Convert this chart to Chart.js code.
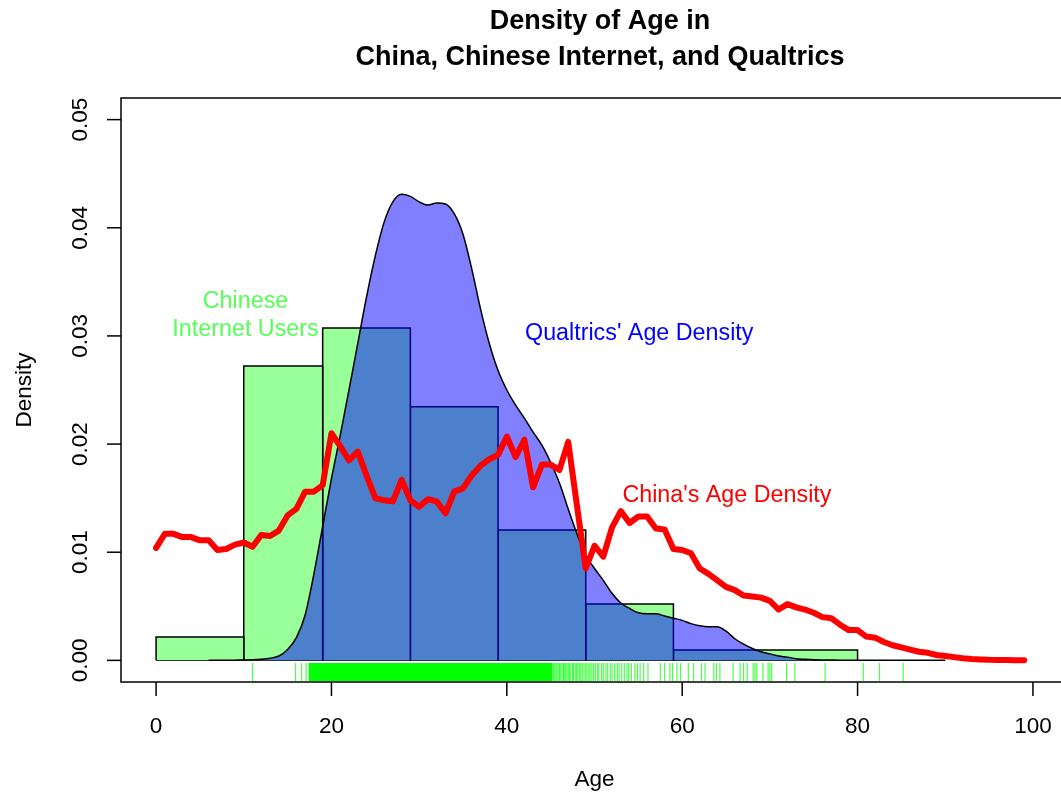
<!DOCTYPE html>
<html>
<head>
<meta charset="utf-8">
<script src="https://cdn.jsdelivr.net/npm/chart.js@4.4.1/dist/chart.umd.min.js"></script>
<style>
  html, body { margin: 0; padding: 0; background: #fff; }
  #wrap { width: 1061px; height: 798px; }
</style>
</head>
<body>
<div id="wrap"><canvas id="ageChart" width="1061" height="798"></canvas></div>
<script>
/* ===== data ===== */
// China's age density, one value per year of age
const chinaAges = [0,1,2,3,4,5,6,7,8,9,10,11,12,13,14,15,16,17,18,19,20,21,22,23,24,25,26,27,28,29,
  30,31,32,33,34,35,36,37,38,39,40,41,42,43,44,45,46,47,48,49,50,51,52,53,54,55,56,57,58,59,
  60,61,62,63,64,65,66,67,68,69,70,71,72,73,74,75,76,77,78,79,80,81,82,83,84,85,86,87,88,89,
  90,91,92,93,94,95,96,97,98,99];
const chinaDensity = [0.0104,0.0117,0.0117,0.0114,0.0114,0.0111,0.0111,0.0102,0.0103,0.0107,
  0.0109,0.0105,0.0116,0.0115,0.0120,0.0134,0.0140,0.0156,0.0156,0.0162,
  0.0210,0.0198,0.0185,0.0193,0.0171,0.0150,0.0148,0.0147,0.0167,0.0148,
  0.0142,0.0149,0.0147,0.0136,0.0156,0.0159,0.0171,0.0180,0.0186,0.0190,
  0.0207,0.0188,0.0204,0.0160,0.0181,0.0181,0.0176,0.0202,0.0143,0.0085,
  0.0106,0.0096,0.0123,0.0138,0.0127,0.0133,0.0133,0.0122,0.0121,0.0103,
  0.0102,0.0099,0.0085,0.0080,0.0074,0.0068,0.0065,0.0060,0.0059,0.0058,
  0.0055,0.0047,0.0052,0.0049,0.0047,0.0044,0.0040,0.0039,0.0033,0.0028,
  0.0028,0.0022,0.0021,0.0017,0.0014,0.0012,0.0010,0.0008,0.0007,0.0005,
  0.0004,0.0003,0.0002,0.00012,0.00008,0.00005,0.00004,0.00003,0.00002,0.00002];

// Qualtrics' kernel density of age
const qualAges = [6,7,8,9,10,11,12,13,14,15,16,17,18,19,20,21,22,23,24,25,26,27,28,29,
  30,31,32,33,34,35,36,37,38,39,40,41,42,43,44,45,46,47,48,49,50,51,52,53,54,55,56,57,58,59,
  60,61,62,63,64,65,66,67,68,69,70,71,72,73,74,75,76,77,78,79,80,81,82,83,84,85,86,87,88,89,90];
const qualDensity = [0,0.00001,0.00001,0.00002,0.00003,0.00005,0.0001,0.0002,0.0004,0.0010,
  0.0021,0.0042,0.0080,0.0124,0.0168,0.0208,0.0250,0.0293,0.0336,0.0374,
  0.0405,0.0424,0.0431,0.0429,0.0424,0.0421,0.0423,0.0422,0.0413,0.0394,
  0.0362,0.0325,0.0293,0.0268,0.0250,0.0236,0.0224,0.0211,0.0199,0.0183,
  0.0164,0.0140,0.0117,0.0097,0.0085,0.0074,0.0062,0.0053,0.0048,0.0044,
  0.0043,0.0043,0.0041,0.0039,0.0037,0.0034,0.0032,0.0031,0.0031,0.0027,
  0.0020,0.0015,0.0011,0.0008,0.0006,0.0004,0.0003,0.00015,0.0001,0.00006,
  0.00004,0.00003,0.00002,0.00002,0.00001,0.00001,0.00001,0.00001,0.00001,0.00001,
  0,0,0,0,0];

// Chinese internet users, histogram of age groups
const histBreaks = [0, 10, 19, 29, 39, 49, 59, 80];
const histDensity = [0.00216, 0.02722, 0.03074, 0.02344, 0.01206, 0.00522, 0.00096];

// rug of Qualtrics respondents' ages
const rugSolid = [17.4, 45.2];
const rugTicks = [11.0, 15.9, 16.6, 17.1,
  45.3, 45.4, 45.55, 45.7, 45.85,
  46.0, 46.1, 46.3, 46.45, 46.55, 46.7, 46.85, 47.0, 47.15, 47.3, 47.5, 47.6, 47.8, 47.95,
  48.1, 48.3, 48.45, 48.6, 48.8, 49.0, 49.15, 49.35, 49.5, 49.7, 49.9, 50.1, 50.35, 50.5,
  50.8, 51.0, 51.3, 51.5, 51.8, 52.0, 52.3, 52.6, 52.8, 53.1, 53.4, 53.7, 53.9, 54.2, 54.6,
  54.9, 55.2,
  55.6, 56.1, 57.5, 58.0, 58.6, 58.9, 59.4, 59.8, 60.7, 61.3, 62.2, 62.6, 63.6, 63.9, 64.3,
  65.8, 66.6, 67.0, 67.4, 68.1, 68.3, 68.5, 69.2, 69.8, 70.0, 70.2, 71.9, 72.85, 76.3,
  80.65, 82.5, 85.2];

// axes
const xTicks = [0, 20, 40, 60, 80, 100];
const yTicks = [0, 0.01, 0.02, 0.03, 0.04, 0.05];
const yTickLabels = ['0.00', '0.01', '0.02', '0.03', '0.04', '0.05'];

const titleLines = ['Density of Age in', 'China, Chinese Internet, and Qualtrics'];
const xTitle = 'Age';
const yTitle = 'Density';

// text labels placed in data coordinates
const notes = [
  { lines: ['Chinese', 'Internet Users'], x: 10.2, y: 0.0319, color: '#55ff55' },
  { lines: ["Qualtrics' Age Density"], x: 55.1, y: 0.0302, color: '#0000ff' },
  { lines: ["China's Age Density"], x: 65.1, y: 0.0152, color: '#ff0000' }
];

/* ===== helpers ===== */
const FONT = '"Liberation Sans", Arial, Helvetica, sans-serif';
const RUG_Y = -0.00107;

function pts(xs, ys) {
  return xs.map((x, i) => ({ x: x, y: ys[i] }));
}

function histDatasets() {
  const res = [];
  for (let i = 0; i < histDensity.length; i++) {
    const a = histBreaks[i], b = histBreaks[i + 1], h = histDensity[i];
    res.push({
      type: 'line',
      data: [{ x: a, y: 0 }, { x: a, y: h }, { x: b, y: h }, { x: b, y: 0 }],
      borderColor: '#000',
      borderWidth: 1.5,
      backgroundColor: '#99ff99',
      fill: 'origin',
      tension: 0,
      pointRadius: 0,
      order: 3
    });
  }
  // bottom edge of the bars
  res.push({
    data: [{ x: histBreaks[0], y: 0 }, { x: histBreaks[histBreaks.length - 1], y: 0 }],
    borderColor: '#000',
    borderWidth: 1.5,
    pointRadius: 0,
    fill: false,
    order: 3
  });
  return res;
}

/* ===== custom drawing: frame, axes and texts like base R ===== */
const decorations = {
  id: 'decorations',
  afterDraw(chart) {
    const ctx = chart.ctx;
    const a = chart.chartArea;
    const xs = chart.scales.x, ys = chart.scales.y;
    ctx.save();
    ctx.strokeStyle = '#000';
    ctx.lineWidth = 1.5;
    // box
    ctx.strokeRect(a.left, a.top, xs.getPixelForValue(104) - a.left, a.bottom - a.top);

    ctx.fillStyle = '#000';
    ctx.font = '22.5px ' + FONT;
    ctx.textAlign = 'center';
    ctx.textBaseline = 'middle';
    // x axis
    xTicks.forEach(v => {
      const px = xs.getPixelForValue(v);
      ctx.beginPath();
      ctx.moveTo(px, a.bottom);
      ctx.lineTo(px, a.bottom + 14);
      ctx.stroke();
      ctx.fillText(String(v), px, a.bottom + 45);
    });
    ctx.fillText(xTitle, (a.left + xs.getPixelForValue(104)) / 2, a.bottom + 98);
    // y axis
    yTicks.forEach((v, i) => {
      const py = ys.getPixelForValue(v);
      ctx.beginPath();
      ctx.moveTo(a.left, py);
      ctx.lineTo(a.left - 14, py);
      ctx.stroke();
      ctx.save();
      ctx.translate(a.left - 40, py);
      ctx.rotate(-Math.PI / 2);
      ctx.fillText(yTickLabels[i], 0, 0);
      ctx.restore();
    });
    ctx.save();
    ctx.translate(25, (a.top + a.bottom) / 2);
    ctx.rotate(-Math.PI / 2);
    ctx.fillText(yTitle, 0, 0);
    ctx.restore();

    // title
    ctx.font = 'bold 27px ' + FONT;
    ctx.fillText(titleLines[0], 600, 22);
    ctx.fillText(titleLines[1], 600, 58);

    // notes
    ctx.font = '23.3px ' + FONT;
    notes.forEach(n => {
      ctx.fillStyle = n.color;
      const cx = xs.getPixelForValue(n.x);
      const cy = ys.getPixelForValue(n.y);
      const lh = 28;
      const top = cy - (n.lines.length - 1) * lh / 2;
      n.lines.forEach((t, i) => ctx.fillText(t, cx, top + i * lh));
    });
    ctx.restore();
  }
};

/* ===== chart ===== */
const ctx = document.getElementById('ageChart').getContext('2d');
new Chart(ctx, {
  type: 'line',
  data: {
    datasets: [
      {
        label: "China's Age Density",
        data: pts(chinaAges, chinaDensity),
        borderColor: '#ff0000',
        borderWidth: 6,
        borderJoinStyle: 'round',
        borderCapStyle: 'round',
        tension: 0,
        pointRadius: 0,
        fill: false,
        order: 0
      },
      {
        label: "Qualtrics' Age Density",
        data: pts(qualAges, qualDensity),
        borderColor: '#000',
        borderWidth: 1.5,
        backgroundColor: 'rgba(0,0,255,0.5)',
        fill: 'origin',
        cubicInterpolationMode: 'monotone',
        pointRadius: 0,
        order: 1
      },
      ...histDatasets(),
      {
        label: 'rug solid',
        data: [{ x: rugSolid[0], y: RUG_Y }, { x: rugSolid[1], y: RUG_Y }],
        borderColor: '#00ff00',
        borderWidth: 18,
        borderCapStyle: 'butt',
        pointRadius: 0,
        fill: false,
        order: 4
      },
      {
        label: 'rug',
        data: rugTicks.map(v => ({ x: v, y: RUG_Y })),
        showLine: false,
        pointStyle: 'line',
        rotation: 90,
        pointRadius: 9,
        pointBorderWidth: 1.2,
        pointBorderColor: 'rgba(0,255,0,0.7)',
        order: 4
      }
    ]
  },
  options: {
    responsive: false,
    animation: false,
    layout: { autoPadding: false, padding: { left: 121, top: 98, right: 0, bottom: 116 } },
    plugins: { legend: { display: false }, tooltip: { enabled: false }, title: { display: false } },
    scales: {
      x: { type: 'linear', min: -4, max: 103.2, display: false },
      y: { type: 'linear', min: -0.002, max: 0.052, display: false }
    }
  },
  plugins: [decorations]
});
</script>
</body>
</html>
